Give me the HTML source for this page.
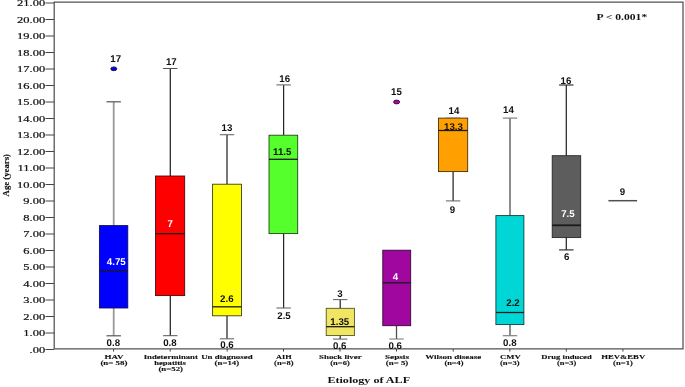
<!DOCTYPE html>
<html><head><meta charset="utf-8"><title>Etiology of ALF</title>
<style>html,body{margin:0;padding:0;background:#fff}svg{display:block}.ser{font-family:"Liberation Serif",serif}.san{font-family:"Liberation Sans",sans-serif;font-weight:bold;font-size:9.8px;text-rendering:geometricPrecision}</style></head><body>
<svg width="685" height="387" viewBox="0 0 685 387">
<rect width="685" height="387" fill="#fff"/>
<g fill="none" stroke="#525252" stroke-width="1.25">
<path d="M54.2 2 H683 V348.8 H54.2 Z"/>
</g>
<g stroke="#444" stroke-width="1">
<line x1="45.5" x2="54" y1="349.5" y2="349.5"/>
<line x1="45.5" x2="54" y1="333.0" y2="333.0"/>
<line x1="45.5" x2="54" y1="316.5" y2="316.5"/>
<line x1="45.5" x2="54" y1="300.0" y2="300.0"/>
<line x1="45.5" x2="54" y1="283.5" y2="283.5"/>
<line x1="45.5" x2="54" y1="267.0" y2="267.0"/>
<line x1="45.5" x2="54" y1="250.5" y2="250.5"/>
<line x1="45.5" x2="54" y1="234.0" y2="234.0"/>
<line x1="45.5" x2="54" y1="217.5" y2="217.5"/>
<line x1="45.5" x2="54" y1="201.0" y2="201.0"/>
<line x1="45.5" x2="54" y1="184.5" y2="184.5"/>
<line x1="45.5" x2="54" y1="168.0" y2="168.0"/>
<line x1="45.5" x2="54" y1="151.5" y2="151.5"/>
<line x1="45.5" x2="54" y1="135.0" y2="135.0"/>
<line x1="45.5" x2="54" y1="118.5" y2="118.5"/>
<line x1="45.5" x2="54" y1="102.0" y2="102.0"/>
<line x1="45.5" x2="54" y1="85.5" y2="85.5"/>
<line x1="45.5" x2="54" y1="69.0" y2="69.0"/>
<line x1="45.5" x2="54" y1="52.5" y2="52.5"/>
<line x1="45.5" x2="54" y1="36.0" y2="36.0"/>
<line x1="45.5" x2="54" y1="19.5" y2="19.5"/>
<line x1="45.5" x2="54" y1="3.0" y2="3.0"/>
</g>
<g class="ser" font-size="8.8" fill="#111" stroke="#111" stroke-width="0.2" text-anchor="end">
<text transform="translate(45.2 352.9) scale(1.42 1)">.00</text>
<text transform="translate(45.2 336.4) scale(1.42 1)">1.00</text>
<text transform="translate(45.2 319.9) scale(1.42 1)">2.00</text>
<text transform="translate(45.2 303.4) scale(1.42 1)">3.00</text>
<text transform="translate(45.2 286.9) scale(1.42 1)">4.00</text>
<text transform="translate(45.2 270.4) scale(1.42 1)">5.00</text>
<text transform="translate(45.2 253.9) scale(1.42 1)">6.00</text>
<text transform="translate(45.2 237.4) scale(1.42 1)">7.00</text>
<text transform="translate(45.2 220.9) scale(1.42 1)">8.00</text>
<text transform="translate(45.2 204.4) scale(1.42 1)">9.00</text>
<text transform="translate(45.2 187.9) scale(1.42 1)">10.00</text>
<text transform="translate(45.2 171.4) scale(1.42 1)">11.00</text>
<text transform="translate(45.2 154.9) scale(1.42 1)">12.00</text>
<text transform="translate(45.2 138.4) scale(1.42 1)">13.00</text>
<text transform="translate(45.2 121.9) scale(1.42 1)">14.00</text>
<text transform="translate(45.2 105.4) scale(1.42 1)">15.00</text>
<text transform="translate(45.2 88.9) scale(1.42 1)">16.00</text>
<text transform="translate(45.2 72.4) scale(1.42 1)">17.00</text>
<text transform="translate(45.2 55.9) scale(1.42 1)">18.00</text>
<text transform="translate(45.2 39.4) scale(1.42 1)">19.00</text>
<text transform="translate(45.2 22.9) scale(1.42 1)">20.00</text>
<text transform="translate(45.2 6.4) scale(1.42 1)">21.00</text>
</g>
<text class="ser" font-size="9.2" font-weight="bold" fill="#111" stroke="#111" stroke-width="0.15" text-anchor="middle" transform="translate(8.7 175.2) rotate(-90) scale(0.95 1)">Age (years)</text>
<g stroke="#9a9a9a" stroke-width="1.8">
<line x1="113.7" x2="113.7" y1="101.8" y2="225.6"/>
<line x1="113.7" x2="113.7" y1="308.0" y2="335.8"/>
</g>
<g stroke="#555" stroke-width="1.2">
<line x1="106.5" x2="120.9" y1="101.8" y2="101.8"/>
<line x1="106.5" x2="120.9" y1="335.8" y2="335.8"/>
</g>
<rect x="99.4" y="225.6" width="28.4" height="82.4" fill="#0000ff" stroke="#0c0c50" stroke-width="0.85"/>
<line x1="99.4" x2="127.8" y1="270.8" y2="270.8" stroke="#1a1a1a" stroke-width="1.3"/>
<g stroke="#222" stroke-width="1.25">
<line x1="170.3" x2="170.3" y1="68.5" y2="176.0"/>
<line x1="170.3" x2="170.3" y1="295.6" y2="335.7"/>
</g>
<g stroke="#555" stroke-width="1.0">
<line x1="163.1" x2="177.5" y1="68.5" y2="68.5"/>
<line x1="163.1" x2="177.5" y1="335.7" y2="335.7"/>
</g>
<rect x="155.5" y="176.0" width="29.2" height="119.6" fill="#ff0000" stroke="#400808" stroke-width="0.85"/>
<line x1="155.5" x2="184.7" y1="233.7" y2="233.7" stroke="#1a1a1a" stroke-width="1.3"/>
<g stroke="#262626" stroke-width="1.25">
<line x1="227.0" x2="227.0" y1="134.7" y2="184.2"/>
<line x1="227.0" x2="227.0" y1="315.8" y2="338.8"/>
</g>
<g stroke="#6a6a6a" stroke-width="1.1">
<line x1="219.8" x2="234.2" y1="134.7" y2="134.7"/>
<line x1="219.8" x2="234.2" y1="338.8" y2="338.8"/>
</g>
<rect x="212.6" y="184.2" width="28.9" height="131.6" fill="#ffff00" stroke="#33331a" stroke-width="0.85"/>
<line x1="212.6" x2="241.5" y1="306.8" y2="306.8" stroke="#1a1a1a" stroke-width="1.3"/>
<g stroke="#262626" stroke-width="1.25">
<line x1="283.6" x2="283.6" y1="84.9" y2="135.2"/>
<line x1="283.6" x2="283.6" y1="233.6" y2="308.0"/>
</g>
<g stroke="#6a6a6a" stroke-width="1.1">
<line x1="276.4" x2="290.8" y1="84.9" y2="84.9"/>
<line x1="276.4" x2="290.8" y1="308.0" y2="308.0"/>
</g>
<rect x="269.0" y="135.2" width="28.7" height="98.4" fill="#55ff2b" stroke="#1c3a12" stroke-width="0.85"/>
<line x1="269.0" x2="297.7" y1="159.3" y2="159.3" stroke="#1a1a1a" stroke-width="1.3"/>
<g stroke="#262626" stroke-width="1.25">
<line x1="340.2" x2="340.2" y1="299.6" y2="308.3"/>
<line x1="340.2" x2="340.2" y1="335.6" y2="339.1"/>
</g>
<g stroke="#6a6a6a" stroke-width="1.1">
<line x1="333.0" x2="347.4" y1="299.6" y2="299.6"/>
<line x1="333.0" x2="347.4" y1="339.1" y2="339.1"/>
</g>
<rect x="326.2" y="308.3" width="28.2" height="27.3" fill="#f0e664" stroke="#4a4a20" stroke-width="0.85"/>
<line x1="326.2" x2="354.4" y1="326.7" y2="326.7" stroke="#1a1a1a" stroke-width="1.3"/>
<g stroke="#505050" stroke-width="1.3">
<line x1="396.5" x2="396.5" y1="325.7" y2="339.0"/>
</g>
<g stroke="#808080" stroke-width="1.1">
<line x1="389.3" x2="403.7" y1="339.0" y2="339.0"/>
</g>
<rect x="382.8" y="250.2" width="27.9" height="75.5" fill="#a0079f" stroke="#2a062a" stroke-width="0.85"/>
<line x1="382.8" x2="410.7" y1="282.8" y2="282.8" stroke="#1a1a1a" stroke-width="1.3"/>
<g stroke="#262626" stroke-width="1.25">
<line x1="453.1" x2="453.1" y1="171.6" y2="200.9"/>
</g>
<g stroke="#6a6a6a" stroke-width="1.1">
<line x1="445.9" x2="460.3" y1="200.9" y2="200.9"/>
</g>
<rect x="438.5" y="118.1" width="29.2" height="53.5" fill="#ffa000" stroke="#3a2808" stroke-width="0.85"/>
<line x1="438.5" x2="467.7" y1="130.5" y2="130.5" stroke="#1a1a1a" stroke-width="1.3"/>
<g stroke="#707070" stroke-width="1.6">
<line x1="510.0" x2="510.0" y1="118.1" y2="215.6"/>
<line x1="510.0" x2="510.0" y1="324.6" y2="335.7"/>
</g>
<g stroke="#808080" stroke-width="1.2">
<line x1="502.8" x2="517.2" y1="118.1" y2="118.1"/>
<line x1="502.8" x2="517.2" y1="335.7" y2="335.7"/>
</g>
<rect x="495.9" y="215.6" width="28.0" height="109.0" fill="#00d6d6" stroke="#0a3838" stroke-width="0.85"/>
<line x1="495.9" x2="523.9" y1="312.5" y2="312.5" stroke="#1a1a1a" stroke-width="1.3"/>
<g stroke="#262626" stroke-width="1.25">
<line x1="566.3" x2="566.3" y1="85.0" y2="155.7"/>
<line x1="566.3" x2="566.3" y1="237.6" y2="249.9"/>
</g>
<g stroke="#333" stroke-width="1.2">
<line x1="559.1" x2="573.5" y1="85.0" y2="85.0"/>
<line x1="559.1" x2="573.5" y1="249.9" y2="249.9"/>
</g>
<rect x="552.2" y="155.7" width="28.5" height="81.9" fill="#5d5d5d" stroke="#222" stroke-width="0.85"/>
<line x1="552.2" x2="580.7" y1="225.3" y2="225.3" stroke="#1a1a1a" stroke-width="1.8"/>
<line x1="446" x2="460.5" y1="117.6" y2="117.6" stroke="#999" stroke-width="1"/>
<line x1="608.4" x2="637.1" y1="200.7" y2="200.7" stroke="#505050" stroke-width="1.5"/>
<ellipse cx="113.8" cy="68.8" rx="3" ry="1.9" fill="#0000f0" stroke="#10104a" stroke-width="0.9"/>
<ellipse cx="396.6" cy="102" rx="3" ry="1.9" fill="#b000b0" stroke="#280a30" stroke-width="0.9"/>
<g class="san" text-anchor="middle">
<text transform="translate(115.7 61.8) scale(0.99 1)" fill="#111">17</text>
<text transform="translate(116.3 265.2) scale(0.99 1)" fill="#fff">4.75</text>
<text transform="translate(113.3 346.4) scale(0.99 1)" fill="#111">0.8</text>
<text transform="translate(171.3 64.9) scale(0.99 1)" fill="#111">17</text>
<text transform="translate(170.1 226.7) scale(0.99 1)" fill="#fff">7</text>
<text transform="translate(169.9 346.4) scale(0.99 1)" fill="#111">0.8</text>
<text transform="translate(227 131.3) scale(0.99 1)" fill="#111">13</text>
<text transform="translate(226.8 301.7) scale(0.99 1)" fill="#111">2.6</text>
<text transform="translate(227 348.2) scale(0.99 1)" fill="#111">0.6</text>
<text transform="translate(284.7 82.4) scale(0.99 1)" fill="#111">16</text>
<text transform="translate(282.2 154.8) scale(0.99 1)" fill="#111">11.5</text>
<text transform="translate(284 318.5) scale(0.99 1)" fill="#111">2.5</text>
<text transform="translate(340 296.9) scale(0.99 1)" fill="#111">3</text>
<text transform="translate(339.8 324.8) scale(0.99 1)" fill="#111">1.35</text>
<text transform="translate(339.7 349.3) scale(0.99 1)" fill="#111">0.6</text>
<text transform="translate(396.4 95.3) scale(0.99 1)" fill="#111">15</text>
<text transform="translate(395.4 279.5) scale(0.99 1)" fill="#fff">4</text>
<text transform="translate(395.2 348.6) scale(0.99 1)" fill="#111">0.6</text>
<text transform="translate(454 114.4) scale(0.99 1)" fill="#111">14</text>
<text transform="translate(453.5 130.2) scale(0.99 1)" fill="#111">13.3</text>
<text transform="translate(452.5 213.2) scale(0.99 1)" fill="#111">9</text>
<text transform="translate(508.5 112.9) scale(0.99 1)" fill="#111">14</text>
<text transform="translate(513 306.4) scale(0.99 1)" fill="#111">2.2</text>
<text transform="translate(509.8 346.2) scale(0.99 1)" fill="#111">0.8</text>
<text transform="translate(565.9 84.4) scale(0.99 1)" fill="#111">16</text>
<text transform="translate(567.9 217.4) scale(0.99 1)" fill="#fff">7.5</text>
<text transform="translate(566.6 260.4) scale(0.99 1)" fill="#111">6</text>
<text transform="translate(622.4 195.2) scale(0.99 1)" fill="#111">9</text>
</g>
<g stroke="#444" stroke-width="1">
<line x1="113.6" x2="113.6" y1="349" y2="351.6"/>
<line x1="170.2" x2="170.2" y1="349" y2="351.6"/>
<line x1="227.2" x2="227.2" y1="349" y2="351.6"/>
<line x1="283.5" x2="283.5" y1="349" y2="351.6"/>
<line x1="340.0" x2="340.0" y1="349" y2="351.6"/>
<line x1="396.5" x2="396.5" y1="349" y2="351.6"/>
<line x1="453.2" x2="453.2" y1="349" y2="351.6"/>
<line x1="509.8" x2="509.8" y1="349" y2="351.6"/>
<line x1="566.3" x2="566.3" y1="349" y2="351.6"/>
<line x1="622.9" x2="622.9" y1="349" y2="351.6"/>
</g>
<g class="ser" font-size="6.7" font-weight="bold" fill="#111" stroke="#111" stroke-width="0.12">
<text x="104.5" y="358.5" textLength="18.9" lengthAdjust="spacingAndGlyphs">HAV</text>
<text x="100.4" y="364.9" textLength="27.1" lengthAdjust="spacingAndGlyphs">(n= 58)</text>
<text x="143.7" y="358.5" textLength="54.2" lengthAdjust="spacingAndGlyphs">Indeterminant</text>
<text x="154.2" y="364.9" textLength="31.6" lengthAdjust="spacingAndGlyphs">hepatitis</text>
<text x="158.4" y="371.1" textLength="24.6" lengthAdjust="spacingAndGlyphs">(n=52)</text>
<text x="201.2" y="358.5" textLength="51.4" lengthAdjust="spacingAndGlyphs">Un diagnosed</text>
<text x="214.6" y="364.9" textLength="24.5" lengthAdjust="spacingAndGlyphs">(n=14)</text>
<text x="276.0" y="358.5" textLength="15.6" lengthAdjust="spacingAndGlyphs">AIH</text>
<text x="274.1" y="364.9" textLength="19.4" lengthAdjust="spacingAndGlyphs">(n=8)</text>
<text x="319.0" y="358.5" textLength="42.7" lengthAdjust="spacingAndGlyphs">Shock liver</text>
<text x="330.3" y="364.9" textLength="19.4" lengthAdjust="spacingAndGlyphs">(n=6)</text>
<text x="385.0" y="358.5" textLength="24" lengthAdjust="spacingAndGlyphs">Sepsis</text>
<text x="385.8" y="364.9" textLength="22.5" lengthAdjust="spacingAndGlyphs">(n= 5)</text>
<text x="425.2" y="358.5" textLength="56.1" lengthAdjust="spacingAndGlyphs">Wilson disease</text>
<text x="444.4" y="364.9" textLength="19.1" lengthAdjust="spacingAndGlyphs">(n=4)</text>
<text x="500.0" y="358.5" textLength="20.8" lengthAdjust="spacingAndGlyphs">CMV</text>
<text x="500.0" y="364.9" textLength="19.6" lengthAdjust="spacingAndGlyphs">(n=3)</text>
<text x="541.3" y="358.5" textLength="50.4" lengthAdjust="spacingAndGlyphs">Drug induced</text>
<text x="557.0" y="364.9" textLength="19.2" lengthAdjust="spacingAndGlyphs">(n=3)</text>
<text x="601.2" y="358.5" textLength="44" lengthAdjust="spacingAndGlyphs">HEV&amp;EBV</text>
<text x="613.1" y="364.9" textLength="19.7" lengthAdjust="spacingAndGlyphs">(n=1)</text>
</g>
<text class="ser" font-size="8.7" font-weight="bold" fill="#111" x="327.4" y="383.4" textLength="82.7" lengthAdjust="spacingAndGlyphs">Etiology of ALF</text>
<text class="ser" font-size="9" font-weight="bold" fill="#111" x="596.5" y="19.7" textLength="50.7" lengthAdjust="spacingAndGlyphs">P &lt; 0.001*</text>
</svg></body></html>
